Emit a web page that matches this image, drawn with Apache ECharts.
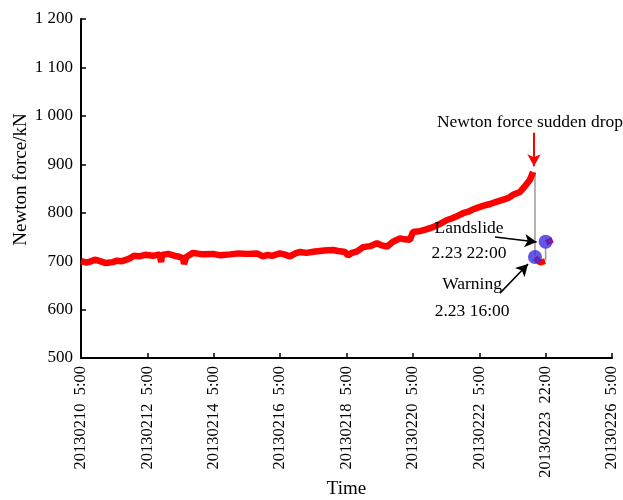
<!DOCTYPE html>
<html>
<head>
<meta charset="utf-8">
<script src="https://cdn.jsdelivr.net/npm/echarts@6/dist/echarts.min.js"></script>
<style>html,body{margin:0;padding:0;background:#fff}#c{width:623px;height:500px}</style>
</head>
<body>
<div id="c"></div>
<script>
// hours since 2013-02-10 05:00
const hours = [0,4,6.5,10,13.7,18,23,26,29.6,33,35.4,38.3,42,46.3,52,57,57.9,58.6,63,68,71,73.8,74.5,76,78,81,88,95.5,101,107.8,114,120,127.3,131.6,135,138,143.9,147,151.1,155,158.4,163,169.2,176,182.2,186,191,193,196,199.6,204,209,214,217,221.3,225.6,230.7,234,237.9,240,245,249,252.4,256,259.6,264.7,268,270.5,276.3,280,282.8,288.5,292,295.8,300.8,306.6,310,312.4,317.5,321.1,324.7,326.9];
const force = [700,697,699,703,700,696,698,701,700,703,706,711,710,713,711,714,698,713,715,711,709,706,694,708,712,717,714,715,712,714,716,715,716,710,713,711,716,714,710,716,719,717,720,722,723,721,719,712,717,720,729,731,737,733,730,740,747,745,744,760,762,765,768,772,777,785,788,791,799,802,806,812,815,818,823,828,832,837,843,855,868,884];
// after the sudden drop
const hoursAfter = [328.3,332,335.6,null,336.3,341];
const forceAfter = [707,697,700,null,738,744];
// drop line and connector
const dropHours = [328.3,328.3];
const dropForce = [884,713];
const linkHours = [336,336];
const linkForce = [729,702];
// events
const warningPoint = [328.3,708.5];
const landslidePoint = [336,740];
const xTickLabels = ['20130210  5:00','20130212  5:00','20130214  5:00','20130216  5:00','20130218  5:00','20130220  5:00','20130222  5:00','20130223  22:00','20130226  5:00'];
const yTicks = [500,600,700,800,900,1000,1100,1200];

const font = '"Liberation Serif","Times New Roman",serif';
const chart = echarts.init(document.getElementById('c'));
const zip = (a,b)=>a.map((v,i)=>[v,b[i]]);
const txt = (x,y,t)=>({coord:[x,y],value:t,symbolSize:0,label:{show:true,formatter:t,color:'#000',fontFamily:font,fontSize:17.5,position:'inside'}});
chart.setOption({
  animation:false,
  grid:{left:81,right:11,top:19,bottom:142,outerBoundsMode:'none',containLabel:false},
  xAxis:{type:'value',min:0,max:384,interval:48,
    name:'Time',nameLocation:'middle',nameGap:122,nameMoveOverlap:false,
    nameTextStyle:{fontFamily:font,fontSize:19,color:'#000',verticalAlign:'top'},
    axisLine:{lineStyle:{color:'#000',width:2}},
    axisTick:{inside:true,length:5,lineStyle:{color:'#000',width:1.5}},
    splitLine:{show:false},
    axisLabel:{rotate:90,fontFamily:font,fontSize:16.5,color:'#000',margin:8,
      formatter:v=>xTickLabels[Math.round(v/48)]||''}},
  yAxis:{type:'value',min:yTicks[0],max:yTicks[yTicks.length-1],interval:100,
    name:'Newton force/kN',nameLocation:'middle',nameGap:50,nameMoveOverlap:false,
    nameTextStyle:{fontFamily:font,fontSize:19,color:'#000',padding:[0,0,0,18]},
    axisLine:{show:true,lineStyle:{color:'#000',width:2}},
    axisTick:{show:true,inside:true,length:5,lineStyle:{color:'#000',width:1.5}},
    splitLine:{show:false},
    axisLabel:{fontFamily:font,fontSize:17,color:'#000',margin:8,
      formatter:v=>v>=1000?Math.floor(v/1000)+' '+String(v%1000).padStart(3,'0'):String(v)}},
  series:[
    {type:'line',data:zip(dropHours,dropForce),symbol:'none',lineStyle:{color:'#999',width:1.5},z:1},
    {type:'line',data:zip(linkHours,linkForce),symbol:'none',lineStyle:{color:'#999',width:1.5},z:1},
    {type:'line',data:zip(hours,force),symbol:'none',lineStyle:{color:'#ff0000',width:6.5},z:2,
      markPoint:{symbol:'circle',data:[
        txt(324.7,987,'Newton force sudden drop'),
        txt(280.6,768,'Landslide'),
        txt(280.6,715,'2.23 22:00'),
        txt(282.8,651,'Warning'),
        txt(282.8,597,'2.23 16:00')
      ]},
      markLine:{silent:true,symbol:['none','arrow'],symbolSize:[10,12],label:{show:false},data:[
        [{coord:[327.6,965],lineStyle:{color:'#ff0000',width:2,type:'solid'}},{coord:[327.6,896]}],
        [{coord:[299.4,750],lineStyle:{color:'#000',width:1.5,type:'solid'}},{coord:[329.5,739.5]}],
        [{coord:[303,634],lineStyle:{color:'#000',width:1.5,type:'solid'}},{coord:[323.3,694]}]
      ]}},
    {type:'line',data:zip(hoursAfter,forceAfter),symbol:'none',connectNulls:false,lineStyle:{color:'#ff0000',width:6},z:2},
    {type:'scatter',data:[warningPoint,landslidePoint],symbol:'circle',symbolSize:14,itemStyle:{color:'#3c2de0'},z:3}
  ]
});
</script>
</body>
</html>
